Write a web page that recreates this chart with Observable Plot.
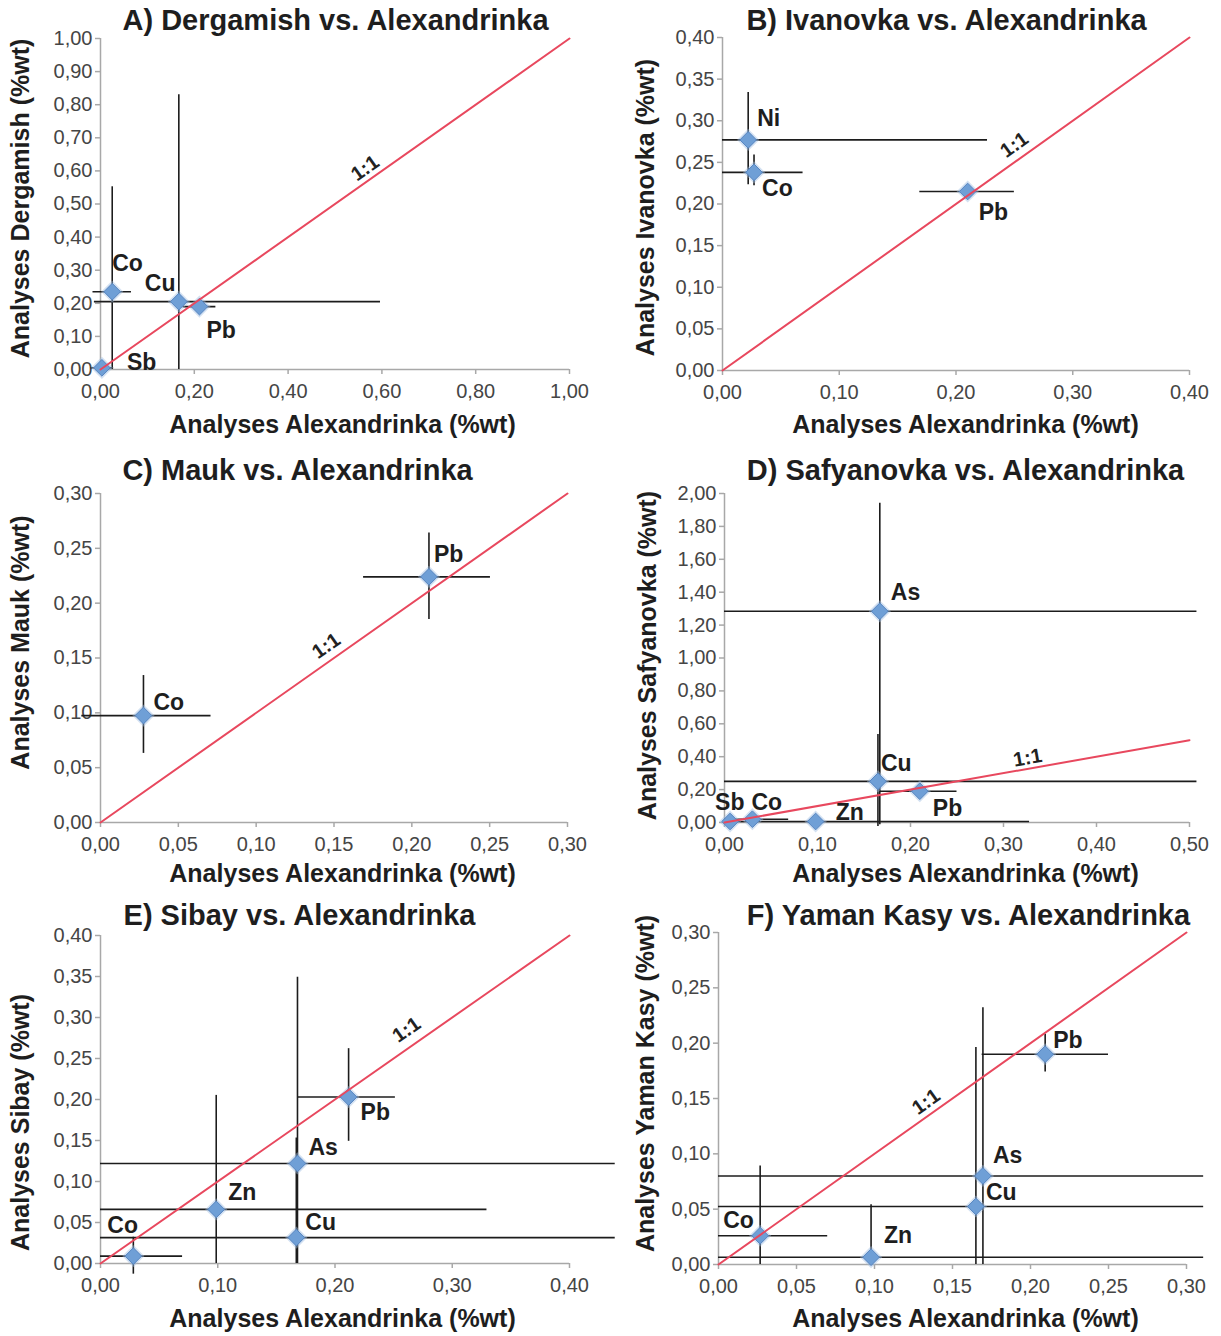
<!DOCTYPE html>
<html>
<head>
<meta charset="utf-8">
<script src="https://cdn.jsdelivr.net/npm/d3@7"></script>
<script src="https://cdn.jsdelivr.net/npm/@observablehq/plot@0.6"></script>
<style>
  html, body { margin: 0; padding: 0; background: #fff; }
  #root { position: relative; width: 1221px; height: 1336px; overflow: hidden; }
  .panel { position: absolute; }
  .panel svg { overflow: visible; }
</style>
</head>
<body>
<div id="root"></div>
<script>
// ---------- DATA ----------
const xAxisLabel = "Analyses Alexandrinka (%wt)";

// A) Dergamish
const aTitle = "A) Dergamish vs. Alexandrinka";
const aYLabel = "Analyses Dergamish (%wt)";
const aElements = ["Sb", "Co", "Cu", "Pb"];
const aX   = [0.003, 0.025, 0.167, 0.211];
const aY   = [0.005, 0.235, 0.205, 0.190];
const aXLo = [-0.020, -0.016, -0.013, 0.176];
const aXHi = [0.028, 0.066, 0.597, 0.246];
const aYLo = [-0.010, 0.000, 0.000, 0.178];
const aYHi = [0.020, 0.552, 0.830, 0.202];
const aOneLabel = [0.564, 0.608];

// B) Ivanovka
const bTitle = "B) Ivanovka vs. Alexandrinka";
const bYLabel = "Analyses Ivanovka (%wt)";
const bElements = ["Ni", "Co", "Pb"];
const bX   = [0.022, 0.027, 0.210];
const bY   = [0.277, 0.238, 0.215];
const bXLo = [0.000, 0.000, 0.169];
const bXHi = [0.227, 0.069, 0.250];
const bYLo = [0.223, 0.222, 0.213];
const bYHi = [0.334, 0.259, 0.217];
const bOneLabel = [0.250, 0.271];

// C) Mauk
const cTitle = "C) Mauk vs. Alexandrinka";
const cYLabel = "Analyses Mauk (%wt)";
const cElements = ["Co", "Pb"];
const cX   = [0.0276, 0.211];
const cY   = [0.0975, 0.224];
const cXLo = [-0.012, 0.169];
const cXHi = [0.071, 0.2505];
const cYLo = [0.063, 0.185];
const cYHi = [0.134, 0.264];
const cOneLabel = [0.145, 0.161];

// D) Safyanovka
const dTitle = "D) Safyanovka vs. Alexandrinka";
const dYLabel = "Analyses Safyanovka (%wt)";
const dElements = ["Sb", "Co", "Zn", "Cu", "As", "Pb"];
const dX   = [0.006, 0.030, 0.098, 0.165, 0.167, 0.210];
const dY   = [0.006, 0.020, 0.006, 0.250, 1.284, 0.190];
const dXLo = [0.000, 0.000, 0.000, 0.000, 0.000, 0.167];
const dXHi = [0.012, 0.069, 0.328, 0.508, 0.508, 0.250];
const dYLo = [0.000, 0.000, 0.000, -0.024, -0.014, 0.170];
const dYHi = [0.012, 0.040, 0.012, 0.535, 1.940, 0.210];
const dOneLabel = [0.326, 0.393];

// E) Sibay
const eTitle = "E) Sibay vs. Alexandrinka";
const eYLabel = "Analyses Sibay (%wt)";
const eElements = ["Co", "Zn", "Cu", "As", "Pb"];
const eX   = [0.028, 0.0987, 0.167, 0.168, 0.2116];
const eY   = [0.009, 0.066, 0.0316, 0.122, 0.203];
const eXLo = [0.000, 0.000, 0.000, 0.000, 0.168];
const eXHi = [0.070, 0.3296, 0.439, 0.439, 0.2515];
const eYLo = [-0.013, 0.000, 0.000, 0.000, 0.149];
const eYHi = [0.032, 0.205, 0.153, 0.349, 0.262];
const eOneLabel = [0.261, 0.285];

// F) Yaman Kasy
const fTitle = "F) Yaman Kasy vs. Alexandrinka";
const fYLabel = "Analyses Yaman Kasy (%wt)";
const fElements = ["Co", "Zn", "Cu", "As", "Pb"];
const fX   = [0.0267, 0.0978, 0.165, 0.1695, 0.2094];
const fY   = [0.026, 0.0066, 0.0524, 0.080, 0.190];
const fXLo = [0.000, 0.000, 0.000, 0.000, 0.169];
const fXHi = [0.070, 0.311, 0.311, 0.311, 0.250];
const fYLo = [0.000, 0.000, 0.000, 0.000, 0.174];
const fYHi = [0.089, 0.054, 0.196, 0.232, 0.208];
const fOneLabel = [0.133, 0.147];

// axis extents and tick steps
const xMaxes  = [1.0, 0.4, 0.3, 0.5, 0.4, 0.3];
const yMaxes  = [1.0, 0.4, 0.3, 2.0, 0.4, 0.3];
const xSteps  = [0.2, 0.1, 0.05, 0.1, 0.1, 0.05];
const ySteps  = [0.1, 0.05, 0.05, 0.2, 0.05, 0.05];

// ---------- LAYOUT (positions / styles) ----------
const layout = [
  {left: 0,   top: 0,   h: 445, mL: 100, mR: 41, mT: 38, mB: 76, title: [335, 20], ylab: [20, 198], xlab: [342, 424],
   lab: [[25, -5], [0, -28], [-34, -18], [7, 24]]},
  {left: 610, top: 0,   h: 445, mL: 112, mR: 31, mT: 37, mB: 75, title: [336, 20], ylab: [35, 207], xlab: [355, 424],
   lab: [[9, -21], [8, 16], [11, 21]]},
  {left: 0,   top: 445, h: 445, mL: 100, mR: 43, mT: 48, mB: 68, title: [297, 25], ylab: [20, 197], xlab: [342, 428],
   lab: [[10, -13], [5, -22]]},
  {left: 610, top: 445, h: 445, mL: 114, mR: 31, mT: 48, mB: 68, title: [355, 25], ylab: [37, 210], xlab: [355, 428],
   lab: [[-15, -19], [-1, -17], [20, -9], [3, -18], [11, -19], [13, 17]]},
  {left: 0,   top: 890, h: 446, mL: 100, mR: 41, mT: 45, mB: 73, title: [299, 25], ylab: [20, 232], xlab: [342, 428],
   lab: [[-26, -30], [12, -17], [9, -15], [11, -16], [12, 16]]},
  {left: 610, top: 890, h: 446, mL: 108, mR: 34, mT: 42, mB: 72, title: [358, 25], ylab: [35, 193], xlab: [355, 428],
   lab: [[-37, -15], [13, -22], [10, -14], [10, -20], [8, -14]]}
];

const panels = [
  {title: aTitle, ylabel: aYLabel, el: aElements, x: aX, y: aY, xLo: aXLo, xHi: aXHi, yLo: aYLo, yHi: aYHi, one: aOneLabel},
  {title: bTitle, ylabel: bYLabel, el: bElements, x: bX, y: bY, xLo: bXLo, xHi: bXHi, yLo: bYLo, yHi: bYHi, one: bOneLabel},
  {title: cTitle, ylabel: cYLabel, el: cElements, x: cX, y: cY, xLo: cXLo, xHi: cXHi, yLo: cYLo, yHi: cYHi, one: cOneLabel},
  {title: dTitle, ylabel: dYLabel, el: dElements, x: dX, y: dY, xLo: dXLo, xHi: dXHi, yLo: dYLo, yHi: dYHi, one: dOneLabel},
  {title: eTitle, ylabel: eYLabel, el: eElements, x: eX, y: eY, xLo: eXLo, xHi: eXHi, yLo: eYLo, yHi: eYHi, one: eOneLabel},
  {title: fTitle, ylabel: fYLabel, el: fElements, x: fX, y: fY, xLo: fXLo, xHi: fXHi, yLo: fYLo, yHi: fYHi, one: fOneLabel}
];

const FONT = "'Liberation Sans', Arial, Helvetica, sans-serif";
const fmt = v => d3.format(".2f")(v).replace(".", ",");
const tickList = (max, step) => d3.range(0, Math.round(max / step) + 1).map(i => +(i * step).toFixed(4));

const root = document.getElementById("root");

panels.forEach((p, k) => {
  const L = layout[k];
  const xMax = xMaxes[k], yMax = yMaxes[k];
  const W = 610;
  const pw = W - L.mL - L.mR, ph = L.h - L.mT - L.mB;
  const data = p.el.map((e, i) => ({el: e, x: p.x[i], y: p.y[i], xLo: p.xLo[i], xHi: p.xHi[i], yLo: p.yLo[i], yHi: p.yHi[i]}));
  const lineEnd = Math.min(xMax, yMax);
  const oneLine = [{x: 0, y: 0}, {x: lineEnd, y: lineEnd}];
  const angle = -Math.atan((ph / yMax) / (pw / xMax)) * 180 / Math.PI;
  const at = (px, py) => ({frameAnchor: "top-left", dx: px - L.mL, dy: py - L.mT});

  const labelMarks = data.map((d, i) => Plot.text([d], {
    x: "x", y: "y", text: "el", dx: L.lab[i][0], dy: L.lab[i][1],
    textAnchor: "start", lineAnchor: "middle", fontSize: 23, fontWeight: "bold", fill: "#1e1e1e"
  }));

  const chart = Plot.plot({
    width: W, height: L.h,
    marginLeft: L.mL, marginRight: L.mR, marginTop: L.mT, marginBottom: L.mB,
    x: {domain: [0, xMax]},
    y: {domain: [0, yMax]},
    style: {fontFamily: FONT, background: "transparent", color: "#222", overflow: "visible"},
    marks: [
      Plot.axisX({ticks: tickList(xMax, xSteps[k]), tickFormat: fmt, tickSize: 5, tickPadding: 9,
        fontSize: 20, fill: "#454545", stroke: "#a8a8a8", strokeWidth: 1.5, label: null}),
      Plot.axisY({ticks: tickList(yMax, ySteps[k]), tickFormat: fmt, tickSize: 5, tickPadding: 3,
        fontSize: 20, fill: "#454545", stroke: "#a8a8a8", strokeWidth: 1.5, label: null}),
      Plot.ruleX([0], {stroke: "#a8a8a8", strokeWidth: 1.5}),
      Plot.ruleY([0], {stroke: "#a8a8a8", strokeWidth: 1.5}),
      Plot.ruleY(data, {y: "y", x1: "xLo", x2: "xHi", stroke: "#1c1c1c", strokeWidth: 1.6}),
      Plot.ruleX(data, {x: "x", y1: "yLo", y2: "yHi", stroke: "#1c1c1c", strokeWidth: 1.6}),
      Plot.dot(data, {x: "x", y: "y", symbol: "diamond2", r: 10, fill: "#9dbde3", fillOpacity: 0.45, stroke: "none"}),
      Plot.dot(data, {x: "x", y: "y", symbol: "diamond2", r: 7.5, fill: "#6f9fd6", stroke: "#5584c0", strokeWidth: 1}),
      Plot.line(oneLine, {x: "x", y: "y", stroke: "#e8485e", strokeWidth: 2}),
      Plot.text([p.one], {x: d => d[0], y: d => d[1], text: () => "1:1", rotate: angle,
        fontSize: 20, fontWeight: "bold", fill: "#222", textAnchor: "middle", lineAnchor: "middle"}),
      ...labelMarks,
      Plot.text([p.title], {...at(L.title[0], L.title[1]), text: d => d, fontSize: 29, fontWeight: "bold",
        fill: "#1e1e1e", textAnchor: "middle", lineAnchor: "middle"}),
      Plot.text([p.ylabel], {...at(L.ylab[0], L.ylab[1]), text: d => d, rotate: -90, fontSize: 25, fontWeight: "bold",
        fill: "#1e1e1e", textAnchor: "middle", lineAnchor: "middle"}),
      Plot.text([xAxisLabel], {...at(L.xlab[0], L.xlab[1]), text: d => d, fontSize: 25, fontWeight: "bold",
        fill: "#1e1e1e", textAnchor: "middle", lineAnchor: "middle"})
    ]
  });
  const div = document.createElement("div");
  div.className = "panel";
  div.style.left = L.left + "px";
  div.style.top = L.top + "px";
  div.appendChild(chart);
  root.appendChild(div);
});
</script>
</body>
</html>
